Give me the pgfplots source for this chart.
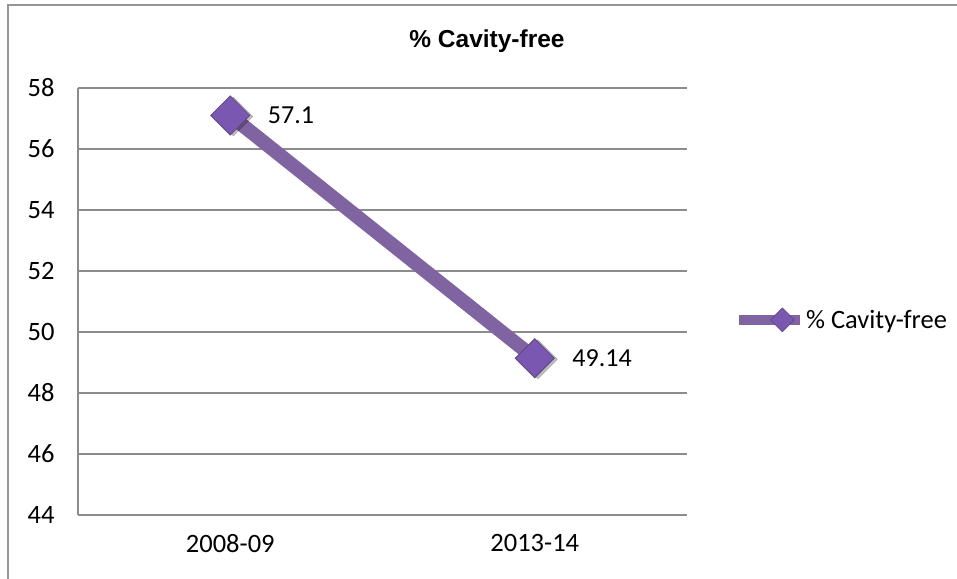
\documentclass[border=0pt]{standalone}
\usepackage{fontspec}
\setmainfont{Carlito}
\newfontfamily\titlefont{Liberation Sans}
\usepackage{pgfplots}
\pgfplotsset{compat=1.18}
\usetikzlibrary{shapes.geometric}
\definecolor{frameGray}{RGB}{150,150,150}
\definecolor{gridGray}{RGB}{140,140,140}
\definecolor{seriesPurple}{RGB}{128,100,162}
\definecolor{markPurple}{RGB}{122,88,178}
\definecolor{markEdge}{RGB}{96,72,130}
\begin{document}
\begin{tikzpicture}[x=1pt,y=1pt]
\useasboundingbox (0,0) rectangle (957,578);
% outer chart frame (open to the right and bottom)
\begin{scope}
\clip (0,0) rectangle (957,578);
\draw[frameGray, line width=2pt] (8,-10) -- (8,573) -- (970,573);
\end{scope}
\node[font=\titlefont\bfseries\fontsize{24.5}{28}\selectfont] at (487,537) {\% Cavity-free};
\begin{axis}[
  at={(78pt,63pt)}, anchor=south west,
  scale only axis, width=609pt, height=427pt,
  xmin=0, xmax=2, ymin=44, ymax=58,
  xtick={0.5,1.5}, xticklabels={2008-09,2013-14},
  ytick={44,46,...,58},
  ymajorgrids, grid style={gridGray, line width=1.2pt},
  axis x line*=bottom, axis y line*=left,
  axis line style={gridGray, line width=1.2pt, -},
  major tick length=0pt,
  tick label style={font=\fontsize{26.5}{30}\selectfont},
  /pgf/number format/assume math mode=true,
  yticklabel style={xshift=-20pt},
  xticklabel style={yshift=-16pt},
  clip=false,
  legend style={at={(1.077,0.457)}, anchor=west, draw=none, fill=none,
    inner sep=0pt, font=\fontsize{26.5}{30}\selectfont,
    nodes={inner xsep=1pt}},
  legend cell align=left,
  legend image code/.code={
    \draw[seriesPurple, line width=10pt] (0pt,0pt) -- (61pt,0pt);
    \node[diamond, fill=markPurple, draw=markEdge, line width=0.6pt,
      minimum size=24pt, inner sep=0pt] at (31pt,0pt) {};
  },
]
% soft shadow under the markers
\addplot[only marks, forget plot, mark=square*,
  mark options={rotate=45, fill=black, draw=none, opacity=0.25, xshift=1.5pt, yshift=-3pt},
  mark size=13.8pt] coordinates {(0.5,57.1) (1.5,49.14)};
\addplot[seriesPurple, line width=14pt, mark=square*, mark size=13.8pt,
  mark options={rotate=45, fill=markPurple, draw=markEdge, line width=0.8pt},
  nodes near coords, every node near coord/.style={anchor=west, xshift=34pt,
    yshift=0pt, font=\fontsize{26}{30}\selectfont, text=black}]
  coordinates {(0.5,57.1) (1.5,49.14)};
\addlegendentry{\% Cavity-free}
\end{axis}
\end{tikzpicture}
\end{document}
